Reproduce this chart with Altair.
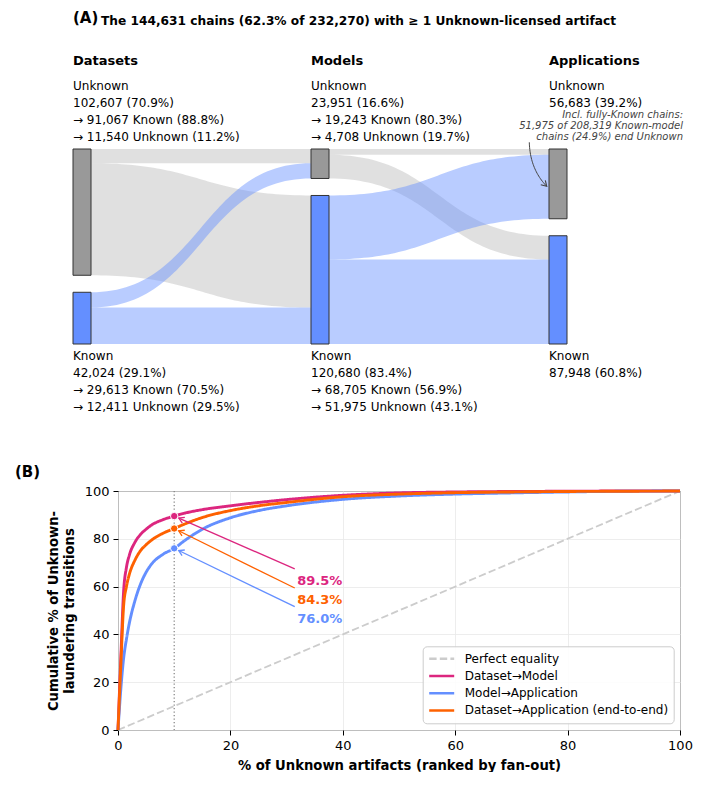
import math
import numpy as np
import pandas as pd
import altair as alt

FONT = "DejaVu Sans"

# ------------------------------------------------------------------
# Panel A: licence state of chains with >= 1 Unknown-licensed artifact
# ------------------------------------------------------------------
ALL_CHAINS = 232270
stages = ["Datasets", "Models", "Applications"]
states = ["Unknown", "Known"]
dataset_counts = [102607, 42024]          # Unknown, Known
model_counts = [23951, 120680]
application_counts = [56683, 87948]
# rows = source state, columns = target state (Unknown, Known)
dataset_to_model = [[11540, 91067], [12411, 29613]]
model_to_application = [[4708, 19243], [51975, 68705]]
known_model_chains = 208319

NODE_COLORS = {"Unknown": "#999999", "Known": "#648fff"}
FLOW_ALPHA = {"Unknown": 0.30, "Known": 0.45}

# ------------------------------------------------------------------
# Panel B: concentration of Unknown-laundering transitions
# ------------------------------------------------------------------
pct_artifacts = [0, 0.5, 1, 1.5, 2, 3, 4, 5, 6, 8, 10, 12, 15, 20, 25, 30,
                 40, 50, 60, 70, 80, 90, 100]
dataset_model = [0, 30, 58, 68, 73, 78.5, 81.8, 84, 85.8, 88, 89.5, 90.8,
                 92.2, 93.8, 95.2, 96.4, 98.2, 99.2, 99.6, 99.8, 99.9, 100, 100]
model_application = [0, 17, 30, 38, 44.5, 54, 61, 66, 69.5, 73.5, 76.0, 79.5,
                     84, 88.8, 91.8, 93.8, 96.5, 97.9, 98.7, 99.2, 99.6, 99.9, 100]
dataset_application = [0, 27, 52, 60, 65, 71, 75, 77.5, 79.5, 82.3, 84.3, 86.3,
                       88.9, 91.8, 93.8, 95.2, 97.6, 98.7, 99.3, 99.6, 99.8, 99.9, 100]
series_names = ["Dataset→Model", "Model→Application",
                "Dataset→Application (end-to-end)"]
series_values = [dataset_model, model_application, dataset_application]
series_colors = ["#dc267f", "#648fff", "#fe6100"]
equality_name = "Perfect equality"
TOP_SHARE = 10  # % of Unknown artifacts highlighted

# ------------------------------------------------------------------
# layout constants (pixels)
# ------------------------------------------------------------------
W_A, H_A = 562, 195
W_B, H_B = 562, 239
SPACING = 147
STAGE_PX = 238
NODE_PX = 18
LEFT_SHIFT = 45
GAP_PX = 17
CURVE_WIDTH = 2.9
EQUALITY_WIDTH = 1.8

total = sum(dataset_counts)
gap = GAP_PX / (H_A - GAP_PX) * total
span = total + gap
node_w = NODE_PX / STAGE_PX


def ux(px):
    return px / STAGE_PX


def uy(px):
    return px * span / H_A


def pct(a, b):
    return f"{100 * a / b:.1f}%"


columns = [dataset_counts, model_counts, application_counts]
transitions = [dataset_to_model, model_to_application]

# nodes
node_rows, node_top = [], {}
for s, counts in enumerate(columns):
    y = 0.0
    for k, st in enumerate(states):
        node_top[(s, k)] = y
        node_rows.append(dict(x0=s, x1=s + node_w, y0=y, y1=y + counts[k],
                              hex=NODE_COLORS[st]))
        y += counts[k] + gap
nodes = pd.DataFrame(node_rows)

# flows as cubic-bezier bands
t = np.linspace(0, 1, 60)
flow_rows = []
fid = 0
for s, mat in enumerate(transitions):
    out_off = {k: node_top[(s, k)] for k in range(2)}
    in_off = {k: node_top[(s + 1, k)] for k in range(2)}
    for i in range(2):
        for j in range(2):
            v = mat[i][j]
            a0, b0 = out_off[i], in_off[j]
            out_off[i] += v
            in_off[j] += v
            x0, x1 = s + node_w, s + 1
            xm = (x0 + x1) / 2
            bx = (1 - t) ** 3 * x0 + 3 * (1 - t) ** 2 * t * xm + 3 * (1 - t) * t ** 2 * xm + t ** 3 * x1
            f = 3 * t ** 2 - 2 * t ** 3
            yt = a0 + (b0 - a0) * f
            for xx, yy in zip(bx, yt):
                flow_rows.append(dict(fid=fid, x=xx, yt=yy, yb=yy + v,
                                      hex=NODE_COLORS[states[i]],
                                      alpha=FLOW_ALPHA[states[i]]))
            fid += 1
flows = pd.DataFrame(flow_rows)

# label blocks
def block(counts, k, mat=None):
    lines = [states[k], f"{counts[k]:,} ({pct(counts[k], total)})"]
    if mat is not None:
        lines.append(f"→ {mat[k][1]:,} Known ({pct(mat[k][1], counts[k])})")
        lines.append(f"→ {mat[k][0]:,} Unknown ({pct(mat[k][0], counts[k])})")
    return "\n".join(lines)


upper_labels = pd.DataFrame(dict(
    x=[0, 1, 2], y=[0, 0, 0],
    label=[block(dataset_counts, 0, dataset_to_model),
           block(model_counts, 0, model_to_application),
           block(application_counts, 0)]))
lower_labels = pd.DataFrame(dict(
    x=[0, 1, 2], y=[span] * 3,
    label=[block(dataset_counts, 1, dataset_to_model),
           block(model_counts, 1, model_to_application),
           block(application_counts, 1)]))
headers = pd.DataFrame(dict(x=[0, 1, 2], y=[0, 0, 0], label=stages))

unknown_chains = total
title_text = (f"The {unknown_chains:,} chains ({pct(unknown_chains, ALL_CHAINS)} of "
              f"{ALL_CHAINS:,}) with ≥ 1 Unknown-licensed artifact")
leaked = model_to_application[1][0]
note_text = "\n".join([
    "Incl. fully-Known chains:",
    f"{leaked:,} of {known_model_chains:,} Known-model",
    f"chains ({pct(leaked, known_model_chains)}) end Unknown"])

xA = alt.Scale(domain=[LEFT_SHIFT / STAGE_PX, (W_A + LEFT_SHIFT) / STAGE_PX], nice=False, zero=False)
yA = alt.Scale(domain=[0, span], reverse=True, nice=False, zero=False)
XA = lambda f: alt.X(f, scale=xA, axis=None)
YA = lambda f: alt.Y(f, scale=yA, axis=None)

flow_layer = alt.Chart(flows).mark_area(interpolate="linear").encode(
    x=XA("x:Q"), y=alt.Y("yt:Q", scale=yA, axis=None, stack=None), y2="yb:Q",
    detail="fid:N", color=alt.Color("hex:N", scale=None),
    opacity=alt.Opacity("alpha:Q", scale=None))

node_layer = alt.Chart(nodes).mark_rect(stroke="#333333", strokeWidth=1).encode(
    x=XA("x0:Q"), x2="x1:Q", y=YA("y0:Q"), y2="y1:Q",
    color=alt.Color("hex:N", scale=None))

upper_text = alt.Chart(upper_labels).mark_text(
    align="left", baseline="top", dy=-68, fontSize=12, lineBreak="\n",
    lineHeight=17, color="black").encode(x=XA("x:Q"), y=YA("y:Q"), text="label:N")
lower_text = alt.Chart(lower_labels).mark_text(
    align="left", baseline="top", dy=6.5, fontSize=12, lineBreak="\n",
    lineHeight=17, color="black").encode(x=XA("x:Q"), y=YA("y:Q"), text="label:N")
header_text = alt.Chart(headers).mark_text(
    align="left", baseline="middle", dy=-88, fontSize=13, fontWeight="bold",
    color="black").encode(x=XA("x:Q"), y=YA("y:Q"), text="label:N")

anchor = pd.DataFrame(dict(x=[0], y=[0], yb=[span], a=["(A)"], b=["(B)"], t=[title_text]))
tag_a = alt.Chart(anchor).mark_text(
    align="left", baseline="middle", dy=-131, fontSize=15, fontWeight="bold",
    color="black").encode(x=XA("x:Q"), y=YA("y:Q"), text="a:N")
title_layer = alt.Chart(anchor).mark_text(
    align="left", baseline="middle", dx=28, dy=-128, fontSize=12.2, fontWeight="bold",
    color="black").encode(x=XA("x:Q"), y=YA("y:Q"), text="t:N")
tag_b = alt.Chart(anchor).mark_text(
    align="left", baseline="middle", dx=-58, dy=128, fontSize=15, fontWeight="bold",
    color="black").encode(x=XA("x:Q"), y=YA("yb:Q"), text="b:N")

note_df = pd.DataFrame(dict(x=[2 + ux(134)], y=[0], label=[note_text]))
note_layer = alt.Chart(note_df).mark_text(
    align="right", baseline="top", dy=-39, fontSize=10, fontStyle="italic",
    lineBreak="\n", lineHeight=11, color="#444444").encode(
    x=XA("x:Q"), y=YA("y:Q"), text="label:N")

# curved pointer from the note to the Unknown applications node
p0, pc, p2 = (-19.7, -6.7), (-19.0, 20.0), (-2.3, 37.3)
tt = np.linspace(0, 1, 30)
cx = (1 - tt) ** 2 * p0[0] + 2 * (1 - tt) * tt * pc[0] + tt ** 2 * p2[0]
cy = (1 - tt) ** 2 * p0[1] + 2 * (1 - tt) * tt * pc[1] + tt ** 2 * p2[1]
curve_df = pd.DataFrame(dict(i=np.arange(len(tt)), x=2 + ux(cx), y=uy(cy)))
curve_layer = alt.Chart(curve_df).mark_line(color="#444444", strokeWidth=1).encode(
    x=XA("x:Q"), y=YA("y:Q"), order="i:Q")
head_ang = math.degrees(math.atan2(p2[1] - pc[1], p2[0] - pc[0])) % 360
CHEVRON = "M -1 -0.6 L 0 0 L -1 0.6"
head_df = pd.DataFrame(dict(x=[2 + ux(p2[0])], y=[uy(p2[1])], ang=[head_ang]))
head_layer = alt.Chart(head_df).mark_point(
    shape=CHEVRON, filled=False, size=110, strokeWidth=1.1, color="#444444", opacity=1).encode(
    x=XA("x:Q"), y=YA("y:Q"), angle=alt.Angle("ang:Q", scale=None))

panel_a = alt.layer(flow_layer, node_layer, upper_text, lower_text, header_text,
                    tag_a, title_layer, tag_b, note_layer, curve_layer, head_layer
                    ).properties(width=W_A, height=H_A)

# ------------------------------------------------------------------
# Panel B chart
# ------------------------------------------------------------------
line_rows = [dict(series=equality_name, x=v, y=v, sw=EQUALITY_WIDTH) for v in (0, 100)]
for name, vals in zip(series_names, series_values):
    line_rows += [dict(series=name, x=xv, y=yv, sw=CURVE_WIDTH)
                  for xv, yv in zip(pct_artifacts, vals)]
lines = pd.DataFrame(line_rows)

legend_order = [equality_name, "Dataset→Model", "Model→Application",
                "Dataset→Application (end-to-end)"]
legend_colors = ["#cccccc", "#dc267f", "#648fff", "#fe6100"]
legend_dash = [[7.4, 3.2], [1, 0], [1, 0], [1, 0]]

# legends of a concatenated chart are placed from the first panel's origin
leg = alt.Legend(title=None, orient="none", legendX=304.7, legendY=H_A + SPACING + 155.3,
                 fillColor="rgba(255,255,255,0.85)", strokeColor="#cccccc",
                 cornerRadius=4, padding=5, symbolType="stroke", symbolSize=625,
                 symbolStrokeWidth=2.5, labelFontSize=12, labelOffset=9,
                 labelLimit=320, clipHeight=15, rowPadding=2.2, labelColor="black")

xB = alt.Scale(domain=[0, 100], nice=False, zero=False)
yB = alt.Scale(domain=[0, 100], nice=False, zero=False)
x_axis = alt.Axis(values=[0, 20, 40, 60, 80, 100], title="% of Unknown artifacts (ranked by fan-out)",
                  titleFontSize=13.2, titleFontWeight="bold", titleColor="black",
                  labelFontSize=13, labelColor="black", tickColor="black", tickSize=5,
                  labelPadding=4, domain=False, gridColor="#e8e8e8", gridWidth=0.8,
                  titlePadding=7, labelFlush=False)
y_axis = alt.Axis(values=[0, 20, 40, 60, 80, 100],
                  title=["Cumulative % of Unknown-", "laundering transitions"],
                  titleFontSize=13.2, titleFontWeight="bold", titleColor="black",
                  titleLineHeight=16, labelFontSize=13, labelColor="black",
                  tickColor="black", tickSize=5, labelPadding=4, domain=False,
                  gridColor="#e8e8e8", gridWidth=0.8, titlePadding=8)

line_layer = alt.Chart(lines).mark_line(interpolate="monotone").encode(
    x=alt.X("x:Q", scale=xB, axis=x_axis),
    y=alt.Y("y:Q", scale=yB, axis=y_axis),
    color=alt.Color("series:N", scale=alt.Scale(domain=legend_order, range=legend_colors),
                    legend=leg, sort=legend_order),
    strokeDash=alt.StrokeDash("series:N", scale=alt.Scale(domain=legend_order, range=legend_dash),
                              legend=leg, sort=legend_order),
    strokeWidth=alt.StrokeWidth("sw:Q", scale=None),
)

cut_df = pd.DataFrame(dict(x=[TOP_SHARE]))
cut_layer = alt.Chart(cut_df).mark_rule(color="#808080", strokeWidth=1.2, strokeDash=[1.3, 2.2]).encode(
    x=alt.X("x:Q", scale=xB))

# highlighted shares at the top-10% cut
idx = pct_artifacts.index(TOP_SHARE)
share = [vals[idx] for vals in series_values]
PX_X, PX_Y = W_B / 100, H_B / 100
label_y = {"Dataset→Model": 62.4, "Dataset→Application (end-to-end)": 54.4,
           "Model→Application": 46.6}
label_x = 31.9
rows = []
for name, val, col in zip(series_names, share, series_colors):
    ly = label_y[name]
    sx, sy = label_x - 0.45, ly + 5.0
    # screen-space direction from the start of the pointer to the point
    dxp = (TOP_SHARE - sx) * PX_X
    dyp = -(val - sy) * PX_Y
    dist = math.hypot(dxp, dyp)
    tip_x = TOP_SHARE - dxp / dist * 5 / PX_X
    tip_y = val + dyp / dist * 5 / PX_Y
    ang = math.degrees(math.atan2(dyp, dxp)) % 360
    rows.append(dict(series=name, val=val, hex=col, lx=label_x, ly=ly, sx=sx, sy=sy,
                     tx=tip_x, ty=tip_y, ang=ang, label=f"{val:.1f}%", xc=TOP_SHARE))
marks = pd.DataFrame(rows)

dot_layer = alt.Chart(marks).mark_point(filled=True, size=55, stroke="white",
                                        strokeWidth=1, opacity=1).encode(
    x=alt.X("xc:Q", scale=xB), y=alt.Y("val:Q", scale=yB),
    fill=alt.Fill("hex:N", scale=None))
ptr_layer = alt.Chart(marks).mark_rule(strokeWidth=1.3).encode(
    x=alt.X("sx:Q", scale=xB), y=alt.Y("sy:Q", scale=yB), x2="tx:Q", y2="ty:Q",
    color=alt.Color("hex:N", scale=None))
ptr_head = alt.Chart(marks).mark_point(shape=CHEVRON, filled=False, size=110,
                                       strokeWidth=1.3, opacity=1).encode(
    x=alt.X("tx:Q", scale=xB), y=alt.Y("ty:Q", scale=yB),
    angle=alt.Angle("ang:Q", scale=None), color=alt.Color("hex:N", scale=None))
lab_layer = alt.Chart(marks).mark_text(align="left", baseline="middle", fontSize=13,
                                       fontWeight="bold").encode(
    x=alt.X("lx:Q", scale=xB), y=alt.Y("ly:Q", scale=yB), text="label:N",
    color=alt.Color("hex:N", scale=None))

panel_b = alt.layer(cut_layer, line_layer, ptr_layer, ptr_head, dot_layer, lab_layer).properties(
    width=W_B, height=H_B, view=alt.ViewBackground(stroke="#1a1a1a", strokeWidth=1))

chart = alt.vconcat(panel_a, panel_b, spacing=SPACING, bounds="flush").properties(
    padding={"left": 15, "top": 11, "right": 0, "bottom": 0}
).configure(font=FONT).configure_view(stroke=None)

chart.save("out.html", embed_options={"renderer": "svg", "actions": False})
